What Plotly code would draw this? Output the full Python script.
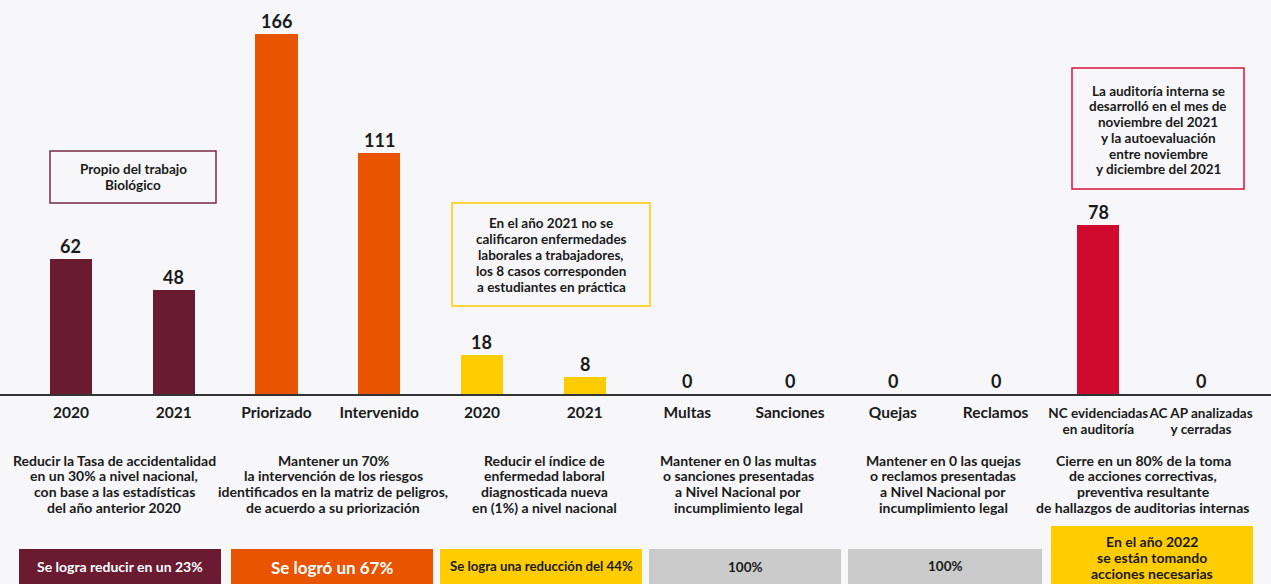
import plotly.graph_objects as go

# ---------------- data ----------------
categories = ["2020", "2021", "Priorizado", "Intervenido", "2020", "2021",
              "Multas", "Sanciones", "Quejas", "Reclamos",
              "NC evidenciadas<br>en auditoría", "AC AP analizadas<br>y cerradas"]
values = [62, 48, 166, 111, 18, 8, 0, 0, 0, 0, 78, 0]
bar_colors = ["#6a1b32", "#6a1b32", "#e85400", "#e85400", "#ffcc00", "#ffcc00",
              "#e85400", "#e85400", "#e85400", "#e85400", "#cf0a2e", "#cf0a2e"]

goals = [
    "Reducir la Tasa de accidentalidad<br>en un 30% a nivel nacional,<br>con base a las estadísticas<br>del año anterior 2020",
    "Mantener un 70%<br>la intervención de los riesgos<br>identificados en la matriz de peligros,<br>de acuerdo a su priorización",
    "Reducir el índice de<br>enfermedad laboral<br>diagnosticada nueva<br>en (1%) a nivel nacional",
    "Mantener en 0 las multas<br>o sanciones presentadas<br>a Nivel Nacional por<br>incumplimiento legal",
    "Mantener en 0 las quejas<br>o reclamos presentadas<br>a Nivel Nacional por<br>incumplimiento legal",
    "Cierre en un 80% de la toma<br>de acciones correctivas,<br>preventiva resultante<br>de hallazgos de auditorias internas",
]
results = ["Se logra reducir en un 23%", "Se logró un 67%", "Se logra una reducción del 44%",
           "100%", "100%", "En el año 2022<br>se están tomando<br>acciones necesarias"]
notes = [
    "Propio del trabajo<br>Biológico",
    "En el año 2021 no se<br>calificaron enfermedades<br>laborales a trabajadores,<br>los 8 casos corresponden<br>a estudiantes en práctica",
    "La auditoría interna se<br>desarrolló en el mes de<br>noviembre del 2021<br>y la autoevaluación<br>entre noviembre<br>y diciembre del 2021",
]

# ---------------- layout helpers ----------------
W, H = 1271, 584
FONT = "Lato"
TXT = "#1a1a1a"
BG = "#f7f7f9"


def px(x):
    return x / W


def py(y):
    return 1 - y / H


annotations = []
shapes = []


def add_lines(text, cx, y_first, spacing, size, color=TXT):
    for k, line in enumerate(text.split("<br>")):
        annotations.append(dict(x=px(cx), y=py(y_first + k * spacing), xref="paper", yref="paper",
                                text=line, showarrow=False, xanchor="center", yanchor="middle",
                                font=dict(family=FONT, size=size, color=color, weight="bold")))


def tick_label(c):
    # single-line labels are set larger; two-line labels keep a smaller size (tighter leading)
    if "<br>" in c:
        return "<br>".join(f"<span style='font-size:13.5px'>{p}</span>" for p in c.split("<br>"))
    return f"<span style='font-size:15.5px'>{c}</span>"


fig = go.Figure()
fig.add_trace(go.Bar(
    x=list(range(len(values))), y=values, marker=dict(color=bar_colors, line=dict(width=0)),
    width=0.41, hoverinfo="skip", showlegend=False,
))

# value labels
for i, v in enumerate(values):
    annotations.append(dict(x=i, y=v, xref="x", yref="y", text=str(v), showarrow=False,
                            yanchor="middle", yshift=13,
                            font=dict(family=FONT, size=18, color=TXT, weight="bold")))

# goal descriptions
goal_x = [114, 333, 544, 738, 943, 1143]
for t, gx in zip(goals, goal_x):
    add_lines(t, gx, 460, 15.7, 14)

# result boxes: x0, x1, y0, y1, fill, text colour, font size, first-line y, spacing
res_boxes = [(19, 221, 549, 584, "#6a1b32", "white", 14, 566, 0),
             (231, 433, 549, 584, "#e85400", "white", 17, 567, 0),
             (440, 642, 549, 584, "#ffcc00", TXT, 13.2, 566, 0),
             (649, 841, 549, 584, "#cbcbcb", TXT, 13.5, 567, 0),
             (848, 1042, 549, 584, "#cbcbcb", TXT, 13.5, 566, 0),
             (1051, 1253, 526, 584, "#ffcc00", TXT, 14, 541, 16)]
for t, (x0, x1, y0, y1, fc, tc, fs, yf, sp) in zip(results, res_boxes):
    shapes.append(dict(type="rect", xref="paper", yref="paper", x0=px(x0), x1=px(x1),
                       y0=py(y1), y1=py(y0), fillcolor=fc, line=dict(width=0), layer="below"))
    add_lines(t, (x0 + x1) / 2, yf, sp, fs, tc)

# note boxes: x0, x1, y0, y1, border, first-line y, spacing
note_boxes = [(50, 216, 151, 203, "#7a2a44", 168.5, 16),
              (452, 650, 203, 306, "#ffcc00", 222.7, 16.1),
              (1072, 1244, 68, 189, "#d5143e", 90.7, 15.7)]
for t, (x0, x1, y0, y1, lc, yf, sp) in zip(notes, note_boxes):
    shapes.append(dict(type="rect", xref="paper", yref="paper", x0=px(x0), x1=px(x1),
                       y0=py(y1), y1=py(y0), fillcolor="rgba(0,0,0,0)",
                       line=dict(width=1.5, color=lc)))
    add_lines(t, (x0 + x1) / 2, yf, sp, 13.5)

fig.update_layout(
    width=W, height=H,
    margin=dict(l=0, r=0, t=0, b=0),
    paper_bgcolor=BG, plot_bgcolor=BG,
    bargap=0,
    xaxis=dict(range=[-0.691, 11.681], tickvals=list(range(len(categories))),
               ticktext=[tick_label(c) for c in categories],
               tickangle=0,
               showgrid=False, zeroline=False, showline=True, linecolor="#333333", linewidth=1.5,
               ticks="outside", ticklen=7, tickcolor="rgba(0,0,0,0)",
               tickfont=dict(family=FONT, size=12.5, color=TXT, weight="bold"), fixedrange=True),
    yaxis=dict(range=[0, 181.5], domain=[1 - 394 / H, 1], visible=False, showgrid=False,
               fixedrange=True),
    shapes=shapes,
    annotations=annotations,
)

fig.write_html("out.html", config={"displayModeBar": False},
               post_script="document.body.style.margin='0';document.body.style.background='#f7f7f9';")
